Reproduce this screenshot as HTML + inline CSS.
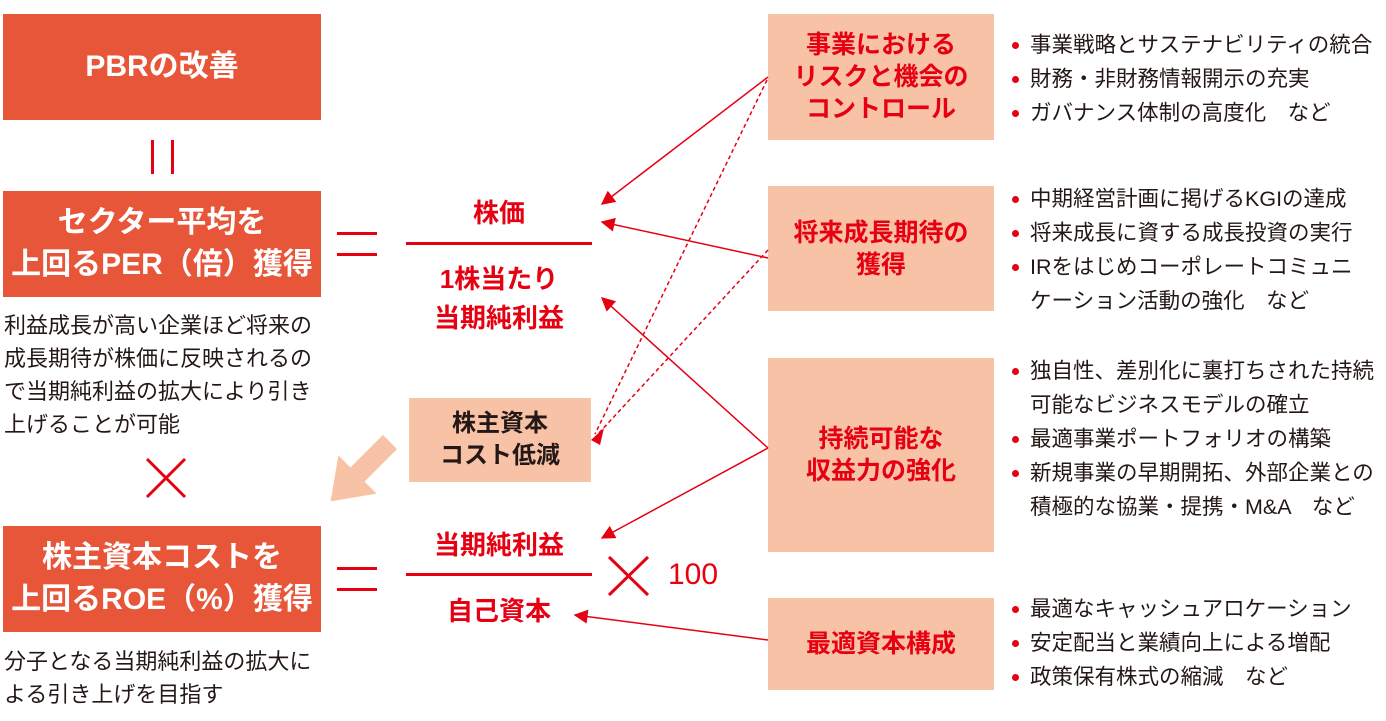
<!DOCTYPE html>
<html><head><meta charset="utf-8"><style>
body{margin:0;width:1386px;height:721px;background:#fff;position:relative;overflow:hidden;font-family:"Liberation Sans","Noto Sans CJK JP",sans-serif}
.a{position:absolute}
.ob{position:absolute;left:3px;width:318px;background:#E8563A;color:#fff;font-weight:bold;font-size:30px;display:flex;align-items:center;justify-content:center;text-align:center;line-height:42px}
.sb{position:absolute;background:#F7C2A6;color:#E60012;font-weight:bold;font-size:25px;display:flex;align-items:center;justify-content:center;text-align:center;line-height:32px}
.red{color:#E60012}
.desc{position:absolute;left:4px;font-size:22px;line-height:33px;color:#231815;white-space:nowrap}
ul{position:absolute;left:1010px;margin:0;padding:0;list-style:none;font-size:21.5px;line-height:34px;color:#231815;white-space:nowrap}
li{position:relative;padding-left:20px}
li.b:before{content:"";position:absolute;left:2px;top:14px;width:7px;height:7px;border-radius:50%;background:#E60012}
.ct{position:absolute;left:396px;width:206px;text-align:center;font-size:26px;font-weight:bold;color:#E60012;line-height:39px}
.hl{position:absolute;background:#E60012}
</style></head><body>
<div class="ob" style="top:14px;height:106px">PBRの改善</div>
<div class="ob" style="top:191px;height:106px">セクター平均を<br>上回るPER（倍）獲得</div>
<div class="ob" style="top:526px;height:106px">株主資本コストを<br>上回るROE（%）獲得</div>
<div class="hl" style="left:151px;top:140px;width:3px;height:34px"></div>
<div class="hl" style="left:171px;top:140px;width:3px;height:34px"></div>
<div class="desc" style="top:309px">利益成長が高い企業ほど将来の<br>成長期待が株価に反映されるの<br>で当期純利益の拡大により引き<br>上げることが可能</div>
<div class="desc" style="top:645px">分子となる当期純利益の拡大に<br>よる引き上げを目指す</div>
<div class="hl" style="left:337px;top:232px;width:40px;height:3px"></div>
<div class="hl" style="left:337px;top:253px;width:40px;height:3px"></div>
<div class="hl" style="left:337px;top:567px;width:40px;height:3px"></div>
<div class="hl" style="left:337px;top:588px;width:40px;height:3px"></div>
<div class="ct" style="top:194px">株価</div>
<div class="hl" style="left:406px;top:242px;width:186px;height:3px"></div>
<div class="ct" style="top:260px">1株当たり<br>当期純利益</div>
<div class="sb" style="left:409px;top:398px;width:182px;height:84px;color:#231815;font-size:24px">株主資本<br>コスト低減</div>
<div class="ct" style="top:526px">当期純利益</div>
<div class="hl" style="left:406px;top:573px;width:186px;height:3px"></div>
<div class="ct" style="top:592px">自己資本</div>
<div class="a red" style="left:668px;top:558px;font-size:30px">100</div>
<div class="sb" style="left:768px;top:14px;width:226px;height:126px">事業における<br>リスクと機会の<br>コントロール</div>
<div class="sb" style="left:768px;top:186px;width:226px;height:125px">将来成長期待の<br>獲得</div>
<div class="sb" style="left:768px;top:358px;width:226px;height:194px">持続可能な<br>収益力の強化</div>
<div class="sb" style="left:768px;top:598px;width:226px;height:92px">最適資本構成</div>
<ul style="top:28px"><li class="b">事業戦略とサステナビリティの統合</li><li class="b">財務・非財務情報開示の充実</li><li class="b">ガバナンス体制の高度化　など</li></ul>
<ul style="top:182px"><li class="b">中期経営計画に掲げるKGIの達成</li><li class="b">将来成長に資する成長投資の実行</li><li class="b">IRをはじめコーポレートコミュニ</li><li>ケーション活動の強化　など</li></ul>
<ul style="top:354px"><li class="b">独自性、差別化に裏打ちされた持続</li><li>可能なビジネスモデルの確立</li><li class="b">最適事業ポートフォリオの構築</li><li class="b">新規事業の早期開拓、外部企業との</li><li>積極的な協業・提携・M&amp;A　など</li></ul>
<ul style="top:592px"><li class="b">最適なキャッシュアロケーション</li><li class="b">安定配当と業績向上による増配</li><li class="b">政策保有株式の縮減　など</li></ul>
<svg class="a" style="left:0;top:0" width="1386" height="721">
<defs><marker id="n" viewBox="0 0 10 10" refX="9" refY="5" markerWidth="16" markerHeight="14" orient="auto" markerUnits="userSpaceOnUse"><path d="M0,0L10,5L0,10z" fill="#E60012"/></marker></defs>
<g stroke="#E60012" stroke-width="1.5" fill="none">
<line x1="768" y1="77" x2="602" y2="204" marker-end="url(#n)"/>
<line x1="768" y1="258" x2="602" y2="222" marker-end="url(#n)"/>
<line x1="768" y1="448" x2="602" y2="298" marker-end="url(#n)"/>
<line x1="768" y1="448" x2="602" y2="538" marker-end="url(#n)"/>
<line x1="768" y1="640" x2="575" y2="615" marker-end="url(#n)"/>
<line x1="767" y1="80" x2="595" y2="434" stroke-dasharray="4,3"/>
<line x1="768" y1="250" x2="598" y2="434" stroke-dasharray="4,3"/>
</g>
<path d="M591,440 L604,428 L600,445 Z" fill="#E60012"/>
<g stroke="#E60012" stroke-width="3"><line x1="147" y1="459" x2="185" y2="497"/><line x1="185" y1="459" x2="147" y2="497"/>
<line x1="609" y1="557" x2="648" y2="595"/><line x1="648" y1="557" x2="609" y2="595"/></g>
<g transform="translate(390,442) rotate(135)"><path d="M0,-10 L46,-10 L46,-27 L84,0 L46,27 L46,10 L0,10 Z" fill="#F7C2A6"/></g>
</svg>
</body></html>
